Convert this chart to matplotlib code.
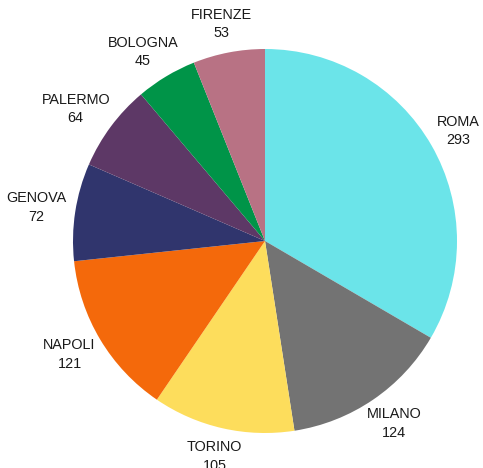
import numpy as np
import matplotlib
matplotlib.use("Agg")
import matplotlib.pyplot as plt

# Data
cities = ["ROMA", "MILANO", "TORINO", "NAPOLI", "GENOVA", "PALERMO", "BOLOGNA", "FIRENZE"]
counts = [293, 124, 105, 121, 72, 64, 45, 53]
colors = ["#6be4e9", "#737373", "#fddd5c", "#f4690b",
          "#30356d", "#5d3866", "#009448", "#b87284"]

plt.rcParams["font.family"] = ["Liberation Sans", "DejaVu Sans"]

fig = plt.figure(figsize=(4.83, 4.68), dpi=100)
ax = fig.add_axes([73 / 483, 35 / 468, 384 / 483, 384 / 468])

wedges, _ = ax.pie(
    counts,
    colors=colors,
    startangle=90,
    counterclock=False,
    wedgeprops=dict(linewidth=0),
)
ax.set_xlim(-1, 1)
ax.set_ylim(-1, 1)
ax.set_aspect("equal")
ax.axis("off")

# labels sit just outside the rim, pushed out by half their own box
renderer = fig.canvas.get_renderer()
px_per_unit = 384 / 2
for w, c, v in zip(wedges, cities, counts):
    ang = np.deg2rad((w.theta1 + w.theta2) / 2)
    ca, sa = np.cos(ang), np.sin(ang)
    t = ax.text(1.05 * ca, 1.05 * sa, f"{c}\n{v}", ha="center", va="center",
                fontsize=10.4, color="#1a1a1a", linespacing=1.4, clip_on=False)
    bb = t.get_window_extent(renderer)
    hw = bb.width / 2 / px_per_unit
    hh = (bb.height / 2 + 3) / px_per_unit
    t.set_position((1.05 * ca + hw * ca, 1.05 * sa + hh * sa))

fig.savefig("out.png", dpi=100)
